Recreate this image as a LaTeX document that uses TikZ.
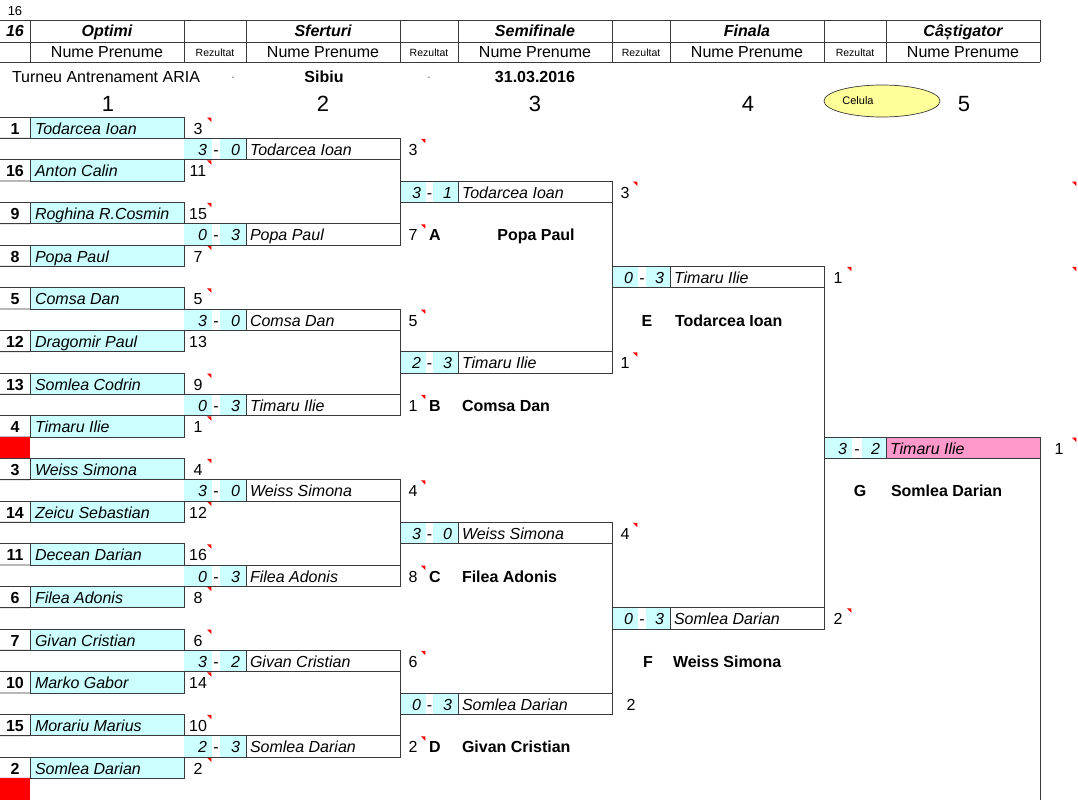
\documentclass[tikz,border=0pt]{standalone}
\usepackage{fontspec}
\setmainfont{Liberation Sans}
\usetikzlibrary{shapes.geometric}
\definecolor{cyanc}{HTML}{CCFFFF}
\definecolor{pinkc}{HTML}{FF99CC}
\definecolor{linec}{HTML}{3A3A3A}
\definecolor{yelc}{HTML}{FFFF99}
\newcommand\mtri[2]{\fill[red] (#1-5,#2+0.6) -- (#1-0.6,#2+0.6) -- (#1-0.6,#2+5) -- cycle;}
\newcommand\seedrow[5]{%
  \pgfmathsetmacro\myt{117+21.333*#1}%
  \pgfmathsetmacro\myb{\myt+21.333}%
  \pgfmathsetmacro\mybl{\myt+17.3}%
  \node[seedbox] (p#1) at (30,\myt) {};
  \draw[grid] (0,\myt) -- (p#1.north west);
  \draw[grid] (0,\myb) -- (p#1.south west);
  \node[bl] (p#1s) at (15,\mybl) {#2};
  \node[nm] (p#1n) at (35,\mybl) {#3};
  \node[rg] (p#1r) at (198,\mybl) {#4};
  \ifnum#5=1 \mtri{212}{\myt}\fi
}
\newcommand\setround[5]{\def\mXo{#1}\def\mXa{#2}\def\mXb{#3}\def\mXs{#4}\def\mXe{#5}}
\newcommand\match[6]{%
  \pgfmathsetmacro\myt{117+21.333*#2}%
  \pgfmathsetmacro\myb{\myt+21.333}%
  \pgfmathsetmacro\mybl{\myt+17.3}%
  \fill[cyanc] (\mXo,\myt) rectangle (\mXa,\myb);
  \fill[cyanc] (\mXb,\myt) rectangle (\mXs,\myb);
  \fill[#6] (\mXs,\myt) rectangle (\mXe,\myb);
  \node[mbox,minimum width={\mXe-\mXo}] (#1) at (\mXo,\myt) {};
  \draw[grid] (#1.north west) -- (#1.north east) -- (#1.south east) -- (#1.south west);
  \draw[grid] (\mXs,\myt) -- (\mXs,\myb);
  \node[sc] (#1a) at (\mXa-5,\mybl) {#3};
  \node[rg] (#1d) at ({(\mXa+\mXb)/2},\mybl) {-};
  \node[sc] (#1b) at (\mXs-6,\mybl) {#4};
  \node[nm] (#1n) at (\mXs+4,\mybl) {#5};
}
\begin{document}
\begin{tikzpicture}[x=1pt,y=-1pt,
  grid/.style={draw=linec,line width=0.9pt},
  txt/.style={inner sep=0pt,outer sep=0pt,font=\fontsize{16}{19}\selectfont},
  nm/.style={txt,font=\fontsize{16}{19}\selectfont\itshape,anchor=base west},
  sc/.style={txt,font=\fontsize{16}{19}\selectfont\itshape,anchor=base east},
  rg/.style={txt,anchor=base},
  bl/.style={txt,font=\fontsize{16}{19}\selectfont\bfseries,anchor=base},
  blw/.style={bl,anchor=base west},
  hd/.style={txt,font=\fontsize{16}{19}\selectfont\bfseries\itshape,anchor=base},
  sm/.style={txt,font=\fontsize{10.5}{12}\selectfont,anchor=base},
  big/.style={txt,font=\fontsize{22}{26}\selectfont,anchor=base},
  seedbox/.style={draw=linec,line width=0.9pt,fill=cyanc,minimum width=154pt,minimum height=21.333pt,anchor=north west,inner sep=0pt,outer sep=0pt},
  mbox/.style={minimum height=21.333pt,anchor=north west,inner sep=0pt,outer sep=0pt},
]
\useasboundingbox (0,0) rectangle (1078,800);
\fill[white] (0,0) rectangle (1078,800);
% ---------- header table ----------
\node[txt,font=\fontsize{13}{15}\selectfont,anchor=base] (top16) at (15,15.5) {16};
\foreach \yy in {20,42,62} \draw[grid] (0,\yy) -- (1040,\yy);
\foreach \xx in {30,184,246,400,458,612,670,824,886,1040} \draw[grid] (\xx,20) -- (\xx,62);
\node[hd] (h16) at (15,36.5) {16};
\node[hd] (hopt) at (107,36.5) {Optimi};
\node[hd] (hsf) at (323,36.5) {Sferturi};
\node[hd] (hsemi) at (535,36.5) {Semifinale};
\node[hd] (hfin) at (747,36.5) {Finala};
\node[hd] (hcas) at (963,36.5) {Câștigator};
\foreach \xx/\k in {107/a,323/b,535/c,747/d,963/e} \node[rg] (np\k) at (\xx,57.5) {Nume Prenume};
\foreach \xx/\k in {215/a,429/b,641/c,855/d} \node[sm] (rz\k) at (\xx,56.5) {Rezultat};
% ---------- title row ----------
\node[rg] (turneu) at (106,82.5) {Turneu Antrenament ARIA};
\node[txt,font=\fontsize{7}{8}\selectfont] (dot1) at (233,78) {-};
\node[txt,font=\fontsize{7}{8}\selectfont] (dot2) at (429,78) {-};
\node[bl] (sibiu) at (324,82.5) {Sibiu};
\node[bl] (data) at (535,82.5) {31.03.2016};
\foreach \xx/\d in {108/1,323/2,535/3,748/4,964/5} \node[big] (col\d) at (\xx,111) {\d};
\node[ellipse,draw=linec,line width=0.7pt,fill=yelc,minimum width=116pt,minimum height=32pt,inner sep=0pt] (cel) at (882,101) {};
\node[txt,font=\fontsize{11}{13}\selectfont] (celt) at (858,101) {Celula};
% ---------- round 1 ----------
\foreach \r/\s/\n/\v/\t in {0/1/Todarcea Ioan/3/1, 2/16/Anton Calin/11/1, 4/9/Roghina R.Cosmin/15/1, 6/8/Popa Paul/7/1,
  8/5/Comsa Dan/5/1, 10/12/Dragomir Paul/13/0, 12/13/Somlea Codrin/9/1, 14/4/Timaru Ilie/1/1,
  16/3/Weiss Simona/4/1, 18/14/Zeicu Sebastian/12/1, 20/11/Decean Darian/16/1, 22/6/Filea Adonis/8/1,
  24/7/Givan Cristian/6/1, 26/10/Marko Gabor/14/1, 28/15/Morariu Marius/10/1, 30/2/Somlea Darian/2/1}
  {\seedrow{\r}{\s}{\n}{\v}{\t}}
\fill[red] (0,{117+21.333*15}) rectangle (30,{117+21.333*16});
\fill[red] (0,{117+21.333*31}) rectangle (30,{117+21.333*32});
% ---------- round 2 (Sferturi) ----------
\setround{184}{212}{220}{246}{400}
\match{q1}{1}{3}{0}{Todarcea Ioan}{white}
\match{q5}{5}{0}{3}{Popa Paul}{white}
\match{q9}{9}{3}{0}{Comsa Dan}{white}
\match{q13}{13}{0}{3}{Timaru Ilie}{white}
\match{q17}{17}{3}{0}{Weiss Simona}{white}
\match{q21}{21}{0}{3}{Filea Adonis}{white}
\match{q25}{25}{3}{2}{Givan Cristian}{white}
\match{q29}{29}{2}{3}{Somlea Darian}{white}
\foreach \r/\v in {1/3,5/7,9/5,13/1,17/4,21/8,25/6,29/2}
  {\node[rg] (qr\r) at (413,{117+21.333*\r+17.3}) {\v}; \mtri{426}{117+21.333*\r}}
% ---------- round 3 (Semifinale) ----------
\setround{400}{426}{433}{458}{612}
\match{s3}{3}{3}{1}{Todarcea Ioan}{white}
\match{s11}{11}{2}{3}{Timaru Ilie}{white}
\match{s19}{19}{3}{0}{Weiss Simona}{white}
\match{s27}{27}{0}{3}{Somlea Darian}{white}
\foreach \r/\v in {3/3,11/1,19/4}
  {\node[rg] (sr\r) at (625,{117+21.333*\r+17.3}) {\v}; \mtri{638}{117+21.333*\r}}
\node[rg] (sr27) at (631,{117+21.333*27+17.3}) {2};
% ---------- round 4 (Finala) ----------
\setround{612}{638}{646}{670}{824}
\match{f7}{7}{0}{3}{Timaru Ilie}{white}
\match{f23}{23}{0}{3}{Somlea Darian}{white}
\foreach \r/\v in {7/1,23/2}
  {\node[rg] (fr\r) at (838,{117+21.333*\r+17.3}) {\v}; \mtri{852}{117+21.333*\r}}
% ---------- round 5 (Castigator) ----------
\setround{824}{852}{862}{886}{1040}
\match{w15}{15}{3}{2}{Timaru Ilie}{pinkc}
\node[rg] (wr15) at (1059,{117+21.333*15+17.3}) {1};
\foreach \r in {3,7,15} {\mtri{1077}{117+21.333*\r}}
% ---------- connectors ----------
\draw[grid] (q1.south east) -- (q5.north east);
\draw[grid] (q9.south east) -- (q13.north east);
\draw[grid] (q17.south east) -- (q21.north east);
\draw[grid] (q25.south east) -- (q29.north east);
\draw[grid] (s3.south east) -- (s11.north east);
\draw[grid] (s19.south east) -- (s27.north east);
\draw[grid] (f7.south east) -- (f23.north east);
\coordinate (bot) at (1040,800);
\draw[grid] (w15.south east) -- (bot);
% ---------- bold labels ----------
\node[bl] (la) at (435,{117+21.333*5+17.3}) {A};
\node[bl] (lan) at (536,{117+21.333*5+17.3}) {Popa Paul};
\node[bl] (lb) at (435,{117+21.333*13+17.3}) {B};
\node[blw] (lbn) at (462,{117+21.333*13+17.3}) {Comsa Dan};
\node[bl] (lc) at (435,{117+21.333*21+17.3}) {C};
\node[blw] (lcn) at (462,{117+21.333*21+17.3}) {Filea Adonis};
\node[bl] (ld) at (435,{117+21.333*29+17.3}) {D};
\node[blw] (ldn) at (462,{117+21.333*29+17.3}) {Givan Cristian};
\node[bl] (le) at (647,{117+21.333*9+17.3}) {E};
\node[blw] (len) at (675,{117+21.333*9+17.3}) {Todarcea Ioan};
\node[bl] (lf) at (648,{117+21.333*25+17.3}) {F};
\node[blw] (lfn) at (673,{117+21.333*25+17.3}) {Weiss Simona};
\node[bl] (lg) at (860,{117+21.333*17+17.3}) {G};
\node[blw] (lgn) at (891,{117+21.333*17+17.3}) {Somlea Darian};
\end{tikzpicture}
\end{document}
